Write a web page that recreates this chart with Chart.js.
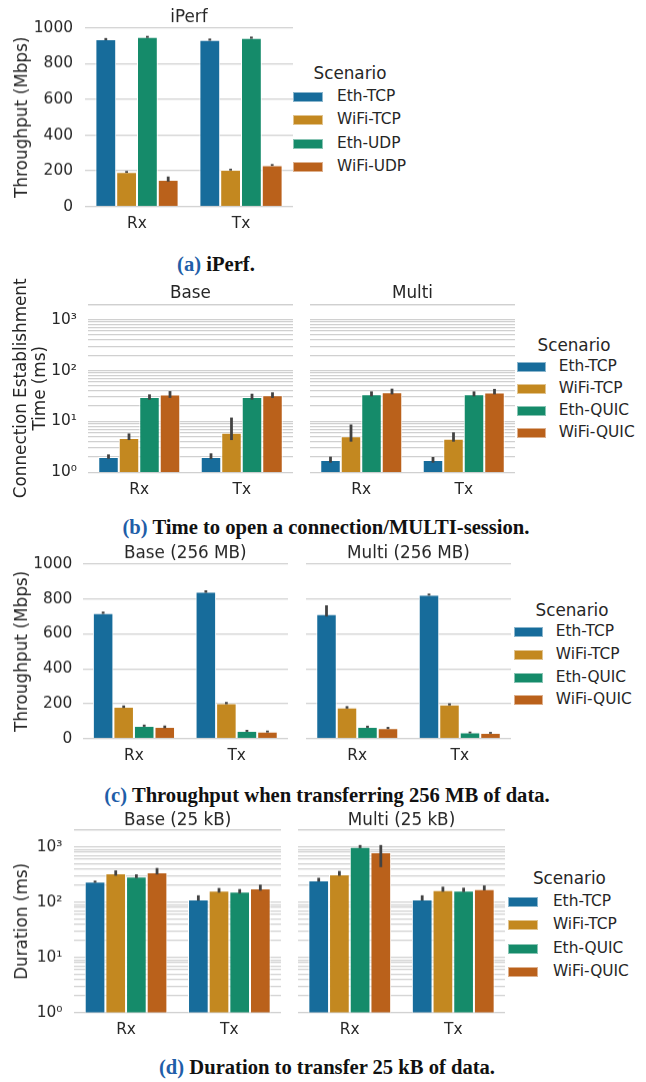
<!DOCTYPE html>
<html>
<head>
<meta charset="utf-8">
<script src="https://cdn.jsdelivr.net/npm/chart.js@4.4.1/dist/chart.umd.min.js"></script>
<style>
body { margin:0; background:#fff; width:646px; height:1082px; position:relative; overflow:hidden; }
.box { position:absolute; }
.lg-title, .lg-text { position:absolute; font-family:"DejaVu Sans"; color:#262626; white-space:nowrap; line-height:1; }
.lg-title { font-size:16.8px; transform:translate(-50%,-50%); }
.lg-text { font-size:15.4px; transform:translateY(-50%); }
.lg-box { position:absolute; height:10px; box-sizing:border-box; border:1px solid rgba(255,255,255,0.5); }
.caption { position:absolute; font-family:"Liberation Serif"; font-weight:bold; font-size:20.6px; color:#111; white-space:nowrap; line-height:1; transform:translate(-50%,-50%); }
.caption span { color:#1f5ea8; }
</style>
</head>
<body>

<div class="caption" style="left:216px; top:264px;"><span>(a)</span> iPerf.</div>
<div class="caption" style="left:326px; top:527px;"><span>(b)</span> Time to open a connection/MULTI-session.</div>
<div class="caption" style="left:327px; top:795px;"><span>(c)</span> Throughput when transferring 256 MB of data.</div>
<div class="caption" style="left:327px; top:1067px;"><span>(d)</span> Duration to transfer 25 kB of data.</div>

<script>
var categories = ["Rx", "Tx"];
var udpScenarios = ["Eth-TCP", "WiFi-TCP", "Eth-UDP", "WiFi-UDP"];
var quicScenarios = ["Eth-TCP", "WiFi-TCP", "Eth-QUIC", "WiFi-QUIC"];
var scenarioColors = ["#176c9b", "#c38820", "#158b6a", "#ba611b"];

// one row per scenario, columns are [Rx, Tx]
// (a) iPerf throughput (Mbps)
var iperfMean = [[936, 933], [193, 206], [949, 944], [150, 232]];
var iperfLow  = [[931, 928], [189, 202], [944, 939], [140, 228]];
var iperfHigh = [[943, 940], [199, 212], [955, 951], [168, 238]];

// (b) connection establishment time (ms)
var connBaseMean  = [[2.0, 2.0], [4.7, 6.0], [30.3, 30.3], [33.6, 32.6]];
var connBaseLow   = [[1.85, 1.82], [4.3, 4.3], [26.8, 26.8], [29, 29]];
var connBaseHigh  = [[2.25, 2.36], [5.8, 11.9], [34, 35], [39.4, 37.3]];
var connMultiMean = [[1.74, 1.74], [5.1, 4.56], [34.1, 34.1], [37.3, 36.8]];
var connMultiLow  = [[1.55, 1.55], [4.0, 4.0], [31, 31], [34, 34]];
var connMultiHigh = [[2.03, 2.0], [8.7, 6.1], [38.9, 38.9], [44, 43.5]];

// (c) throughput for 256 MB (Mbps)
var tputBaseMean  = [[720, 841], [182, 202], [73, 44], [67, 40]];
var tputBaseLow   = [[715, 836], [176, 197], [68, 39], [60, 35]];
var tputBaseHigh  = [[728, 850], [190, 210], [80, 50], [75, 46]];
var tputMultiMean = [[714, 825], [178, 196], [67, 35], [60, 33]];
var tputMultiLow  = [[700, 820], [172, 190], [62, 30], [55, 28]];
var tputMultiHigh = [[764, 831], [186, 202], [74, 40], [67, 38]];

// (d) duration for 25 kB (ms)
var durBaseMean  = [[234, 112], [333, 161], [290, 154], [345, 177]];
var durBaseLow   = [[225, 107], [300, 148], [272, 143], [317, 161]];
var durBaseHigh  = [[245, 133], [375, 180], [318, 172], [415, 207]];
var durMultiMean = [[248, 112], [318, 165], [1000, 161], [800, 172]];
var durMultiLow  = [[237, 107], [300, 154], [950, 152], [430, 163]];
var durMultiHigh = [[275, 133], [366, 190], [1080, 182], [1080, 200]];

// axis ticks
var linearTicks = [0, 200, 400, 600, 800, 1000];
var logDecades = [1, 10, 100, 1000];
var logSteps = [1, 2, 3, 4, 5, 6, 7, 8, 9];
var logMax = 2000;
var decadeLabels = ["10\u2070", "10\u00b9", "10\u00b2", "10\u00b3"];

Chart.defaults.font.family = "DejaVu Sans";
Chart.defaults.color = "#262626";

var logTickValues = [];
for (var d = 0; d < logDecades.length; d++) {
	for (var s = 0; s < logSteps.length; s++) {
		if (logDecades[d] * logSteps[s] <= logMax) logTickValues.push(logDecades[d] * logSteps[s]);
	}
}
logTickValues.push(logMax);

var errorBarPlugin = {
	id: 'errorBars',
	afterDatasetsDraw: function(chart) {
		var ctx = chart.ctx;
		var yScale = chart.scales.y;
		ctx.save();
		ctx.strokeStyle = '#424242';
		ctx.lineWidth = 2.8;
		chart.data.datasets.forEach(function(ds, i) {
			var meta = chart.getDatasetMeta(i);
			meta.data.forEach(function(bar, j) {
				ctx.beginPath();
				ctx.moveTo(bar.x, yScale.getPixelForValue(ds.low[j]));
				ctx.lineTo(bar.x, yScale.getPixelForValue(ds.high[j]));
				ctx.stroke();
			});
		});
		ctx.restore();
	}
};

// facet title centred over the plot area, not the whole canvas
var panelTitlePlugin = {
	id: 'panelTitle',
	afterDraw: function(chart, args, opts) {
		var a = chart.chartArea;
		var ctx = chart.ctx;
		ctx.save();
		ctx.font = '16.8px "DejaVu Sans"';
		ctx.fillStyle = '#262626';
		ctx.textAlign = 'center';
		ctx.textBaseline = 'middle';
		ctx.fillText(opts.text, (a.left + a.right) / 2, opts.y);
		ctx.restore();
	}
};

function makePanel(p, scenarios, mean, low, high)
{
	var div = document.createElement('div');
	div.className = 'box';
	var height = p.plotBottom - p.top + 30;
	div.style.left = p.left + 'px';
	div.style.top = p.top + 'px';
	div.style.width = p.width + 'px';
	div.style.height = height + 'px';
	var canvas = document.createElement('canvas');
	div.appendChild(canvas);
	document.body.appendChild(div);

	var datasets = [];
	for (var i = 0; i < scenarios.length; i++) {
		datasets.push({
			label: scenarios[i],
			data: mean[i],
			low: low[i],
			high: high[i],
			backgroundColor: scenarioColors[i],
			borderColor: '#ffffff',
			borderWidth: 1,
			categoryPercentage: 0.8,
			barPercentage: 1.0
		});
	}

	var hasLabels = p.yTitle != null;
	var yTitleLH = 1.1;
	var yAxis = {
		type: p.log ? 'logarithmic' : 'linear',
		min: p.log ? 1 : 0,
		max: p.log ? logMax : 1000,
		border: { display: false },
		grid: { color: '#d0d0d0', lineWidth: 1.3, drawTicks: false },
		ticks: {
			display: hasLabels,
			autoSkip: false,
			padding: p.tickPad || 0,
			font: { size: 15.4, lineHeight: 1 },
			callback: function(value) {
				if (!p.log) return value;
				var k = logDecades.indexOf(value);
				return k >= 0 ? decadeLabels[k] : '';
			}
		},
		title: {
			display: hasLabels,
			text: p.yTitle,
			font: { size: 16.8, lineHeight: yTitleLH },
			padding: { top: hasLabels ? p.yTitleX - 16.8 * yTitleLH / 2 : 0, bottom: 0 }
		},
		afterFit: function(scale) { scale.width = p.plotLeft - p.left; }
	};
	var tickList = p.log ? logTickValues : linearTicks;
	yAxis.afterBuildTicks = function(scale) {
		scale.ticks = tickList.map(function(v) { return { value: v }; });
	};

	var chart = new Chart(canvas, {
		type: 'bar',
		data: { labels: categories, datasets: datasets },
		options: {
			responsive: true,
			maintainAspectRatio: false,
			animation: false,
			layout: { padding: { top: p.plotTop - p.top, left: 0, right: 0, bottom: 0 } },
			plugins: {
				legend: { display: false },
				tooltip: { enabled: false },
				panelTitle: { text: p.title, y: p.titleMid - p.top }
			},
			scales: {
				x: {
					grid: { display: false, drawTicks: false },
					border: { display: false },
					ticks: { padding: 10, font: { size: 15.4, lineHeight: 1 } },
					afterFit: function(scale) { scale.height = 30; }
				},
				y: yAxis
			}
		},
		plugins: [errorBarPlugin, panelTitlePlugin]
	});
	return chart;
}

function makeLegend(chart, lg)
{
	var t = document.createElement('div');
	t.className = 'lg-title';
	t.style.left = lg.titleX + 'px';
	t.style.top = lg.titleY + 'px';
	t.textContent = 'Scenario';
	document.body.appendChild(t);
	chart.data.datasets.forEach(function(ds, i) {
		var y = lg.y0 + i * lg.step;
		var b = document.createElement('div');
		b.className = 'lg-box';
		b.style.left = lg.boxX + 'px';
		b.style.top = (y - 5) + 'px';
		b.style.width = lg.boxW + 'px';
		b.style.background = ds.backgroundColor;
		document.body.appendChild(b);
		var tx = document.createElement('div');
		tx.className = 'lg-text';
		tx.style.left = lg.textX + 'px';
		tx.style.top = y + 'px';
		tx.textContent = ds.label;
		document.body.appendChild(tx);
	});
}

// (a)
var iperfChart = makePanel({left: 0, width: 293, top: 0, plotLeft: 85, plotTop: 27.7, plotBottom: 205.7,
	titleMid: 17.5, title: 'iPerf', yTitle: 'Throughput (Mbps)', yTitleX: 22.5, tickPad: 12, log: false},
	udpScenarios, iperfMean, iperfLow, iperfHigh);
makeLegend(iperfChart, {titleX: 350, titleY: 73, boxX: 293, boxW: 30, y0: 97, step: 23.3, textX: 337});

// (b)
makePanel({left: 0, width: 293, top: 278, plotLeft: 88, plotTop: 304.3, plotBottom: 472.3,
	titleMid: 294, title: 'Base', yTitle: ['Connection Establishment', 'Time (ms)'], yTitleX: 21.7, tickPad: 11, log: true},
	quicScenarios, connBaseMean, connBaseLow, connBaseHigh);
var connMulti = makePanel({left: 310, width: 205, top: 278, plotLeft: 310, plotTop: 304.3, plotBottom: 472.3,
	titleMid: 294, title: 'Multi', log: true},
	quicScenarios, connMultiMean, connMultiLow, connMultiHigh);
makeLegend(connMulti, {titleX: 574, titleY: 345, boxX: 516.5, boxW: 29, y0: 366.7, step: 22.2, textX: 558.7});

// (c)
makePanel({left: 0, width: 288, top: 538, plotLeft: 82.6, plotTop: 564, plotBottom: 737.7,
	titleMid: 554, title: 'Base (256 MB)', yTitle: 'Throughput (Mbps)', yTitleX: 22.7, tickPad: 10.3, log: false},
	quicScenarios, tputBaseMean, tputBaseLow, tputBaseHigh);
var tputMulti = makePanel({left: 306, width: 205, top: 538, plotLeft: 306, plotTop: 564, plotBottom: 737.7,
	titleMid: 554, title: 'Multi (256 MB)', log: false},
	quicScenarios, tputMultiMean, tputMultiLow, tputMultiHigh);
makeLegend(tputMulti, {titleX: 572, titleY: 609.5, boxX: 513.6, boxW: 29, y0: 632.3, step: 22.7, textX: 555.8});

// (d)
makePanel({left: 0, width: 281, top: 805, plotLeft: 74.4, plotTop: 830.1, plotBottom: 1011.7,
	titleMid: 821, title: 'Base (25 kB)', yTitle: 'Duration (ms)', yTitleX: 22.7, tickPad: 12, log: true},
	quicScenarios, durBaseMean, durBaseLow, durBaseHigh);
var durMulti = makePanel({left: 298, width: 207, top: 805, plotLeft: 298, plotTop: 830.1, plotBottom: 1011.7,
	titleMid: 821, title: 'Multi (25 kB)', log: true},
	quicScenarios, durMultiMean, durMultiLow, durMultiHigh);
makeLegend(durMulti, {titleX: 569.4, titleY: 877.5, boxX: 508.3, boxW: 30, y0: 901.7, step: 23.5, textX: 552.9});
</script>
</body>
</html>
